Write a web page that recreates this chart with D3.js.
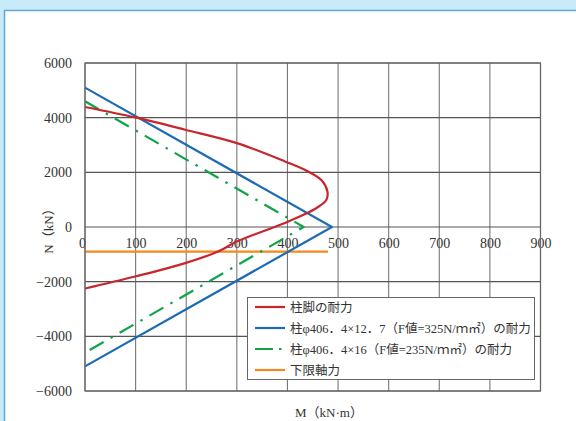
<!DOCTYPE html>
<html>
<head>
<meta charset="utf-8">
<script src="https://cdn.jsdelivr.net/npm/d3@7"></script>
<style>
  html, body { margin: 0; padding: 0; background: #c8eaf9; }
  svg { display: block; }
  text { font-family: "Liberation Serif", "Noto Sans CJK JP", serif; fill: #333; }
</style>
</head>
<body>
<div id="chart"></div>
<script>
// tick values
const xTicks = [0, 100, 200, 300, 400, 500, 600, 700, 800, 900];
const yTicks = [-6000, -4000, -2000, 0, 2000, 4000, 6000];

// 柱脚の耐力 (M, N)
const baseM = [0, 99, 198, 300, 395, 440, 468, 479, 477, 462, 440, 395, 300, 264, 198, 99, 0];
const baseN = [4390, 4010, 3560, 3070, 2400, 2040, 1700, 1300, 1000, 750, 520, 150, -530, -890, -1320, -1810, -2250];

// 柱 φ406.4×12.7
const col127M = [0, 488, 0];
const col127N = [5100, 0, -5100];

// 柱 φ406.4×16
const col16M = [0, 432, 0];
const col16N = [4600, 0, -4600];

// 下限軸力
const lowerM = [0, 480];
const lowerN = [-900, -900];

const legendLabels = [
  "柱脚の耐力",
  "柱φ406．4×12．7（F値=325N/ｍ㎡）の耐力",
  "柱φ406．4×16（F値=235N/ｍ㎡）の耐力",
  "下限軸力"
];

const W = 576, H = 421;
const plot = { left: 85, right: 540.5, top: 63, bottom: 391 };

const svg = d3.select("#chart").append("svg")
  .attr("width", W)
  .attr("height", H);

// panel frame
svg.append("rect")
  .attr("x", 4.5).attr("y", 10.5)
  .attr("width", W + 10).attr("height", H + 10)
  .attr("fill", "#fff")
  .attr("stroke", "#5fa8d8")
  .attr("stroke-width", 1.5);

const x = d3.scaleLinear().domain([0, 900]).range([plot.left, plot.right]);
const y = d3.scaleLinear().domain([-6000, 6000]).range([plot.bottom, plot.top]);

// grid
const grid = svg.append("g");
grid.selectAll(".vg")
  .data(xTicks)
  .enter().append("line")
  .attr("x1", d => x(d)).attr("x2", d => x(d))
  .attr("y1", plot.top).attr("y2", plot.bottom)
  .attr("stroke", "#777").attr("stroke-width", 1.1);
grid.selectAll(".hg")
  .data(yTicks)
  .enter().append("line")
  .attr("x1", plot.left).attr("x2", plot.right)
  .attr("y1", d => y(d)).attr("y2", d => y(d))
  .attr("stroke", "#555").attr("stroke-width", 1.1);

// y axis labels
const yAxis = svg.append("g")
  .attr("transform", "translate(" + plot.left + ",0)")
  .call(d3.axisLeft(y).tickValues(yTicks).tickSize(0).tickPadding(13)
    .tickFormat(d => d < 0 ? "−" + Math.abs(d) : d));
yAxis.select(".domain").remove();
yAxis.selectAll("text")
  .style("font-family", "Liberation Serif")
  .style("font-size", "14px")
  .attr("fill", "#333");

// x axis labels along N = 0
const xAxis = svg.append("g")
  .attr("transform", "translate(0," + y(0) + ")")
  .call(d3.axisBottom(x).tickValues(xTicks).tickSize(0).tickPadding(11));
xAxis.select(".domain").remove();
xAxis.selectAll("text")
  .style("font-family", "Liberation Serif")
  .style("font-size", "14px")
  .attr("fill", "#333")
  .attr("dx", d => d === 0 ? -3 : 0);

// lines
const line = d3.line().x(d => x(d[0])).y(d => y(d[1]));
const curve = d3.line().x(d => x(d[0])).y(d => y(d[1])).curve(d3.curveCatmullRom.alpha(0.5));

const series = [
  { m: baseM, n: baseN, color: "#c9252c", dash: null, gen: curve },
  { m: col127M, n: col127N, color: "#1c6bb4", dash: null, gen: line },
  { m: col16M, n: col16N, color: "#0fa34a", dash: "16,8,2.5,8", gen: line },
  { m: lowerM, n: lowerN, color: "#f5871f", dash: null, gen: line }
];

// draw order: orange below others
[3, 2, 1, 0].forEach(i => {
  const s = series[i];
  svg.append("path")
    .datum(d3.zip(s.m, s.n))
    .attr("d", s.gen)
    .attr("fill", "none")
    .attr("stroke", s.color)
    .attr("stroke-width", 2.2)
    .attr("stroke-linejoin", "round")
    .attr("stroke-dasharray", s.dash);
});

// plot border
svg.append("rect")
  .attr("x", plot.left).attr("y", plot.top)
  .attr("width", plot.right - plot.left).attr("height", plot.bottom - plot.top)
  .attr("fill", "none").attr("stroke", "#666").attr("stroke-width", 1.2);

// axis titles
svg.append("text")
  .attr("transform", "translate(53,228) rotate(-90)")
  .attr("text-anchor", "middle")
  .style("font-size", "13px")
  .text("N（kN）");

svg.append("text")
  .attr("x", 329).attr("y", 417)
  .attr("text-anchor", "middle")
  .style("font-size", "13px")
  .text("M（kN·m）");

// legend
const legend = svg.append("g");
legend.append("rect")
  .attr("x", 247.5).attr("y", 297.5)
  .attr("width", 287).attr("height", 82)
  .attr("fill", "#fff").attr("stroke", "#666").attr("stroke-width", 1);

const rows = [307, 328, 349, 370];
series.forEach((s, i) => {
  legend.append("line")
    .attr("x1", 255).attr("x2", 285)
    .attr("y1", rows[i]).attr("y2", rows[i])
    .attr("stroke", s.color).attr("stroke-width", 2.2)
    .attr("stroke-dasharray", s.dash ? "18,6,2.5,6" : null);
  legend.append("text")
    .attr("x", 290).attr("y", rows[i])
    .attr("dy", "0.36em")
    .style("font-size", "12.5px")
    .text(legendLabels[i]);
});
</script>
</body>
</html>
